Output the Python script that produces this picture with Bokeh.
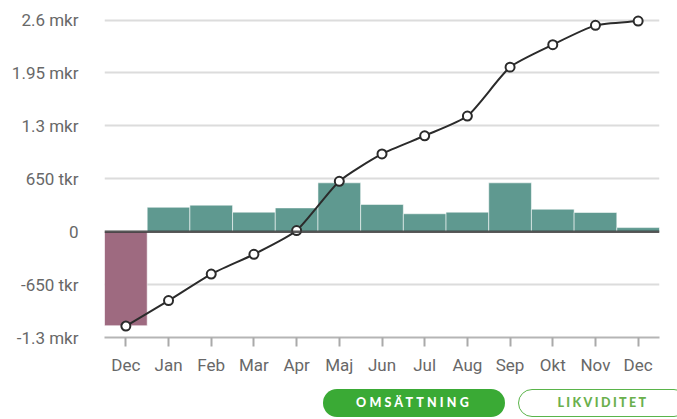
from bokeh.plotting import figure
from bokeh.models import ColumnDataSource, FixedTicker, Span, Range1d, Div
from bokeh.layouts import column
from bokeh.embed import file_html
from bokeh.resources import INLINE

# ---- data ----
months = ["Dec", "Jan", "Feb", "Mar", "Apr", "Maj", "Jun", "Jul", "Aug", "Sep", "Okt", "Nov", "Dec"]
monthly = [-1155000, 300000, 326000, 240000, 292000, 600000, 335000, 220000, 240000, 600000, 276000, 236000, 50000]
cumulative = [-1160000, -847000, -521000, -278000, 14000, 619000, 955000, 1178000, 1420000, 2021000, 2297000, 2534000, 2587000]
y_ticks = [-1300000, -650000, 0, 650000, 1300000, 1950000, 2600000]
y_tick_labels = ["-1.3 mkr", "-650 tkr", "0", "650 tkr", "1.3 mkr", "1.95 mkr", "2.6 mkr"]
buttons = ["OMSÄTTNING", "LIKVIDITET"]

POS = "#5f9990"
NEG = "#9e6a80"
FONT = "Roboto"

W, H = 677, 383
BL, BR, BT, BB = 104, 18, 10, 46
Y0, Y1 = -1300000, 2716700

xs = list(range(len(months)))
bar_src = ColumnDataSource(dict(
    x=xs, top=monthly,
    color=[POS if v >= 0 else NEG for v in monthly],
))
line_src = ColumnDataSource(dict(x=xs, y=cumulative))

# smooth line rendering (Chart.js-style spline, tension 0.2) computed in pixel space
sx = (W - BL - BR) / len(months)
sy = (H - BT - BB) / (Y1 - Y0)
tension = 0.2
n = len(xs)
prev_c, next_c = [], []
for i in range(n):
    p0 = (xs[max(i - 1, 0)] * sx, cumulative[max(i - 1, 0)] * sy)
    p1 = (xs[i] * sx, cumulative[i] * sy)
    p2 = (xs[min(i + 1, n - 1)] * sx, cumulative[min(i + 1, n - 1)] * sy)
    d01 = ((p1[0] - p0[0]) ** 2 + (p1[1] - p0[1]) ** 2) ** 0.5
    d12 = ((p2[0] - p1[0]) ** 2 + (p2[1] - p1[1]) ** 2) ** 0.5
    tot = d01 + d12
    s01 = d01 / tot if tot else 0
    s12 = d12 / tot if tot else 0
    fa, fb = tension * s01, tension * s12
    prev_c.append(((p1[0] - fa * (p2[0] - p0[0])) / sx, (p1[1] - fa * (p2[1] - p0[1])) / sy))
    next_c.append(((p1[0] + fb * (p2[0] - p0[0])) / sx, (p1[1] + fb * (p2[1] - p0[1])) / sy))
bez_src = ColumnDataSource(dict(
    x0=xs[:-1], y0=cumulative[:-1], x1=xs[1:], y1=cumulative[1:],
    cx0=[c[0] for c in next_c[:-1]], cy0=[c[1] for c in next_c[:-1]],
    cx1=[c[0] for c in prev_c[1:]], cy1=[c[1] for c in prev_c[1:]],
))

p = figure(width=W, height=H, output_backend="svg", toolbar_location=None,
           x_range=Range1d(-0.5, len(months) - 0.5),
           y_range=Range1d(Y0, Y1),
           min_border_left=BL, min_border_right=BR, min_border_top=BT, min_border_bottom=BB)
p.outline_line_color = None
p.background_fill_color = "white"
p.border_fill_color = "white"

p.vbar(x="x", top="top", bottom=0, width=1.0, source=bar_src,
       fill_color="color", line_color="white", line_width=1, line_alpha=0.55)

p.add_layout(Span(location=0, dimension="width", line_color="#3e3e3e",
                  line_width=2.5, line_alpha=0.85))

p.bezier(x0="x0", y0="y0", x1="x1", y1="y1", cx0="cx0", cy0="cy0", cx1="cx1", cy1="cy1",
         source=bez_src, line_color="#2b2b2b", line_width=2)
p.scatter(x="x", y="y", source=line_src, size=9, fill_color="white",
          line_color="#2b2b2b", line_width=2)

# grids
p.xgrid.visible = False
p.ygrid.ticker = FixedTicker(ticks=y_ticks)
p.ygrid.grid_line_color = "#dcdcdc"
p.ygrid.grid_line_width = 2

# y axis
p.yaxis.ticker = FixedTicker(ticks=y_ticks)
p.yaxis.major_label_overrides = {t: l for t, l in zip(y_ticks, y_tick_labels)}
p.yaxis.axis_line_color = None
p.yaxis.major_tick_line_color = None
p.yaxis.minor_tick_line_color = None
p.yaxis.major_label_standoff = 20
p.yaxis.major_label_text_font = FONT
p.yaxis.major_label_text_font_size = "17px"
p.yaxis.major_label_text_color = "#686868"

# x axis
p.xaxis.ticker = FixedTicker(ticks=xs)
p.xaxis.major_label_overrides = {i: m for i, m in enumerate(months)}
p.xaxis.axis_line_color = "#b5b5b5"
p.xaxis.axis_line_width = 2
p.xaxis.major_tick_line_color = "#aaaaaa"
p.xaxis.major_tick_line_width = 2
p.xaxis.major_tick_out = 9
p.xaxis.major_tick_in = 0
p.xaxis.minor_tick_line_color = None
p.xaxis.major_label_standoff = 8
p.xaxis.major_label_text_font = FONT
p.xaxis.major_label_text_font_size = "17px"
p.xaxis.major_label_text_color = "#686868"

btn_html = f"""
<div style="position:relative;width:677px;height:36px;overflow:hidden;font-family:Lato,sans-serif;">
  <div style="position:absolute;left:323px;top:6px;width:182px;height:28px;border-radius:14px;
       background:#3aaa35;color:white;font-weight:900;font-size:12.5px;letter-spacing:3.2px;
       display:flex;align-items:center;justify-content:center;">{buttons[0]}</div>
  <div style="position:absolute;left:518px;top:6px;width:168px;height:26px;border-radius:14px;
       border:1.5px solid #5ab44a;background:white;color:#6ab04c;font-weight:900;font-size:12.5px;
       letter-spacing:2.4px;display:flex;align-items:center;justify-content:center;box-sizing:content-box;">{buttons[1]}</div>
</div>
"""
div = Div(text=btn_html, width=W, height=36, margin=(0, 0, 0, 0))
p.margin = (0, 0, 0, 0)

layout = column(p, div, spacing=0)
open("out.html", "w").write(file_html(layout, INLINE))
